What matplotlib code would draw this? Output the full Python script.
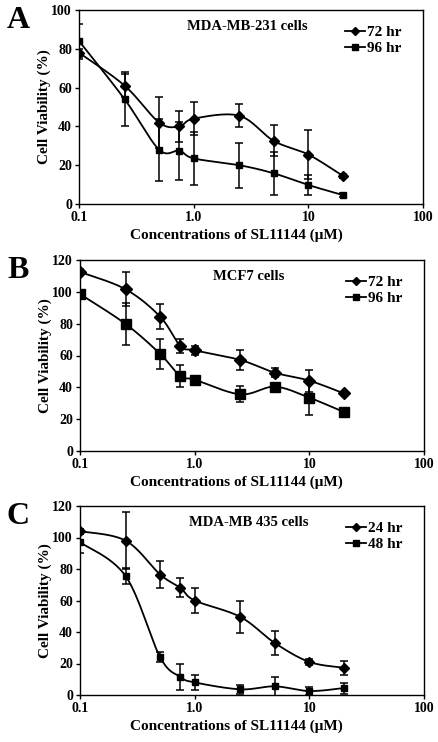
import numpy as np
import matplotlib
matplotlib.use("Agg")
import matplotlib.pyplot as plt

plt.rcParams['font.family'] = ['Liberation Serif', 'DejaVu Serif']
plt.rcParams['font.weight'] = 'bold'
plt.rcParams['mathtext.default'] = 'regular'

conc = [0.1, 0.25, 0.5, 0.75, 1.0, 2.5, 5, 10, 20]

# Panel A: MDA-MB-231 cells
a_72 = [78, 61, 42, 40, 44, 45.5, 32.5, 25.5, 14.5]
a_72_err = [2, 6, 13, 8, 8.5, 6, 8, 12.5, 1]
a_96 = [84, 54, 28, 27.5, 23.5, 20, 15.8, 9.8, 4.6]
a_96_err = [9, 14, 16, 15, 13.5, 11.7, 11, 5, 1]

# Panel B: MCF7 cells
b_72 = [112.5, 101.6, 84.4, 66, 63.2, 57.2, 49.2, 44.2, 36.2]
b_72_err = [2, 10.7, 8, 4.4, 3, 6, 3, 7, 1]
b_96 = [98.6, 79.8, 61, 47, 44.8, 35.6, 40.4, 33.5, 24.5]
b_96_err = [2, 13, 9.5, 7, 2, 5, 1.5, 11, 1]

# Panel C: MDA-MB 435 cells
c_24 = [104, 98, 76.5, 68, 60, 49.6, 33, 21, 17.3]
c_24_err = [1.5, 18, 8.7, 6, 8, 10, 7.4, 2, 4.5]
c_48 = [97, 75.5, 24, 11.5, 8, 3.6, 5.5, 2.5, 4.4]
c_48_err = [7, 5, 3, 8.4, 5, 3, 6, 2.5, 3.5]

x_ticks = [0.1, 1, 10, 100]
x_ticklabels = ["0.1", "1.0", "10", "100"]
xlabel = "Concentrations of SL11144 (\u03bcM)"
ylabel = "Cell Viability (%)"

panels = [
    dict(letter="A", title="MDA-MB-231 cells", s1=(a_72, a_72_err, "72 hr"),
         s2=(a_96, a_96_err, "96 hr"), ymax=100, ms1=5, ms2=5),
    dict(letter="B", title="MCF7 cells", s1=(b_72, b_72_err, "72 hr"),
         s2=(b_96, b_96_err, "96 hr"), ymax=120, ms1=6.5, ms2=6.5),
    dict(letter="C", title="MDA-MB 435 cells", s1=(c_24, c_24_err, "24 hr"),
         s2=(c_48, c_48_err, "48 hr"), ymax=120, ms1=5, ms2=5),
]

W, H = 439, 742
boxes = [(79, 10, 423, 204), (80, 260, 424, 451), (80, 506, 424, 695)]


def smooth(x, y, n=30):
    """Catmull-Rom rendering of the polyline in (log10 x, y) space."""
    lx = np.log10(np.asarray(x, float))
    yy = np.asarray(y, float)
    P = np.column_stack([lx, yy])
    P = np.vstack([P[0], P, P[-1]])
    out = []
    for i in range(1, len(P) - 2):
        p0, p1, p2, p3 = P[i - 1], P[i], P[i + 1], P[i + 2]
        t = np.linspace(0, 1, n)[:, None]
        seg = 0.5 * ((2 * p1) + (-p0 + p2) * t + (2 * p0 - 5 * p1 + 4 * p2 - p3) * t ** 2
                     + (-p0 + 3 * p1 - 3 * p2 + p3) * t ** 3)
        out.append(seg if i == 1 else seg[1:])
    out = np.vstack(out)
    return 10 ** out[:, 0], out[:, 1]


fig = plt.figure(figsize=(W / 100, H / 100), dpi=100)

for p, (l, t, r, b) in zip(panels, boxes):
    ax = fig.add_axes([l / W, 1 - b / H, (r - l) / W, (b - t) / H])
    ax.set_xscale('log')
    ax.set_xlim(0.1, 100)
    ax.set_ylim(0, p['ymax'])
    handles = []
    for (vals, errs, lab), mk, ms in [(p['s1'], 'D', p['ms1']), (p['s2'], 's', p['ms2'])]:
        sx, sy = smooth(conc, vals)
        ax.plot(sx, sy, color='black', lw=1.3, zorder=2)
        ax.errorbar(conc, vals, yerr=errs, fmt='none', ecolor='black', elinewidth=1.1,
                    capsize=3.2, capthick=1.1, zorder=3)
        ax.plot(conc, vals, linestyle='none', marker=mk, ms=ms, color='black', zorder=4)
        h, = ax.plot([], [], color='black', lw=1.3, marker=mk, ms=4, label=lab)
        handles.append(h)
    ax.set_xticks(x_ticks)
    ax.set_xticklabels(x_ticklabels)
    ax.xaxis.set_minor_locator(matplotlib.ticker.NullLocator())
    ax.set_yticks(np.arange(0, p['ymax'] + 1, 20))
    ax.tick_params(axis='both', direction='out', length=3, width=1, labelsize=10, pad=2)
    for lbl in ax.get_xticklabels() + ax.get_yticklabels():
        lbl.set_fontweight('bold')
    for s in ax.spines.values():
        s.set_linewidth(1.0)
    ax.set_xlabel(xlabel, fontsize=11, fontweight='bold', labelpad=3)
    ax.xaxis.label.set_x((236 - l) / (r - l))
    ax.set_ylabel(ylabel, fontsize=11, fontweight='bold', labelpad=0)
    ax.text(0.49, 0.915, p['title'], transform=ax.transAxes, ha='center', va='center',
            fontsize=10.5, fontweight='bold')
    ax.legend(handles=handles, loc='upper left', bbox_to_anchor=(0.752, 0.96),
              frameon=False, handlelength=1.3, handletextpad=0.15, borderpad=0,
              labelspacing=0.15, prop=dict(size=11, weight='bold'))
    fig.text(7 / W, 1 - (t + 11) / H, p['letter'], fontsize=23, fontweight='bold',
             ha='left', va='center')

fig.savefig('out.png', dpi=100)
